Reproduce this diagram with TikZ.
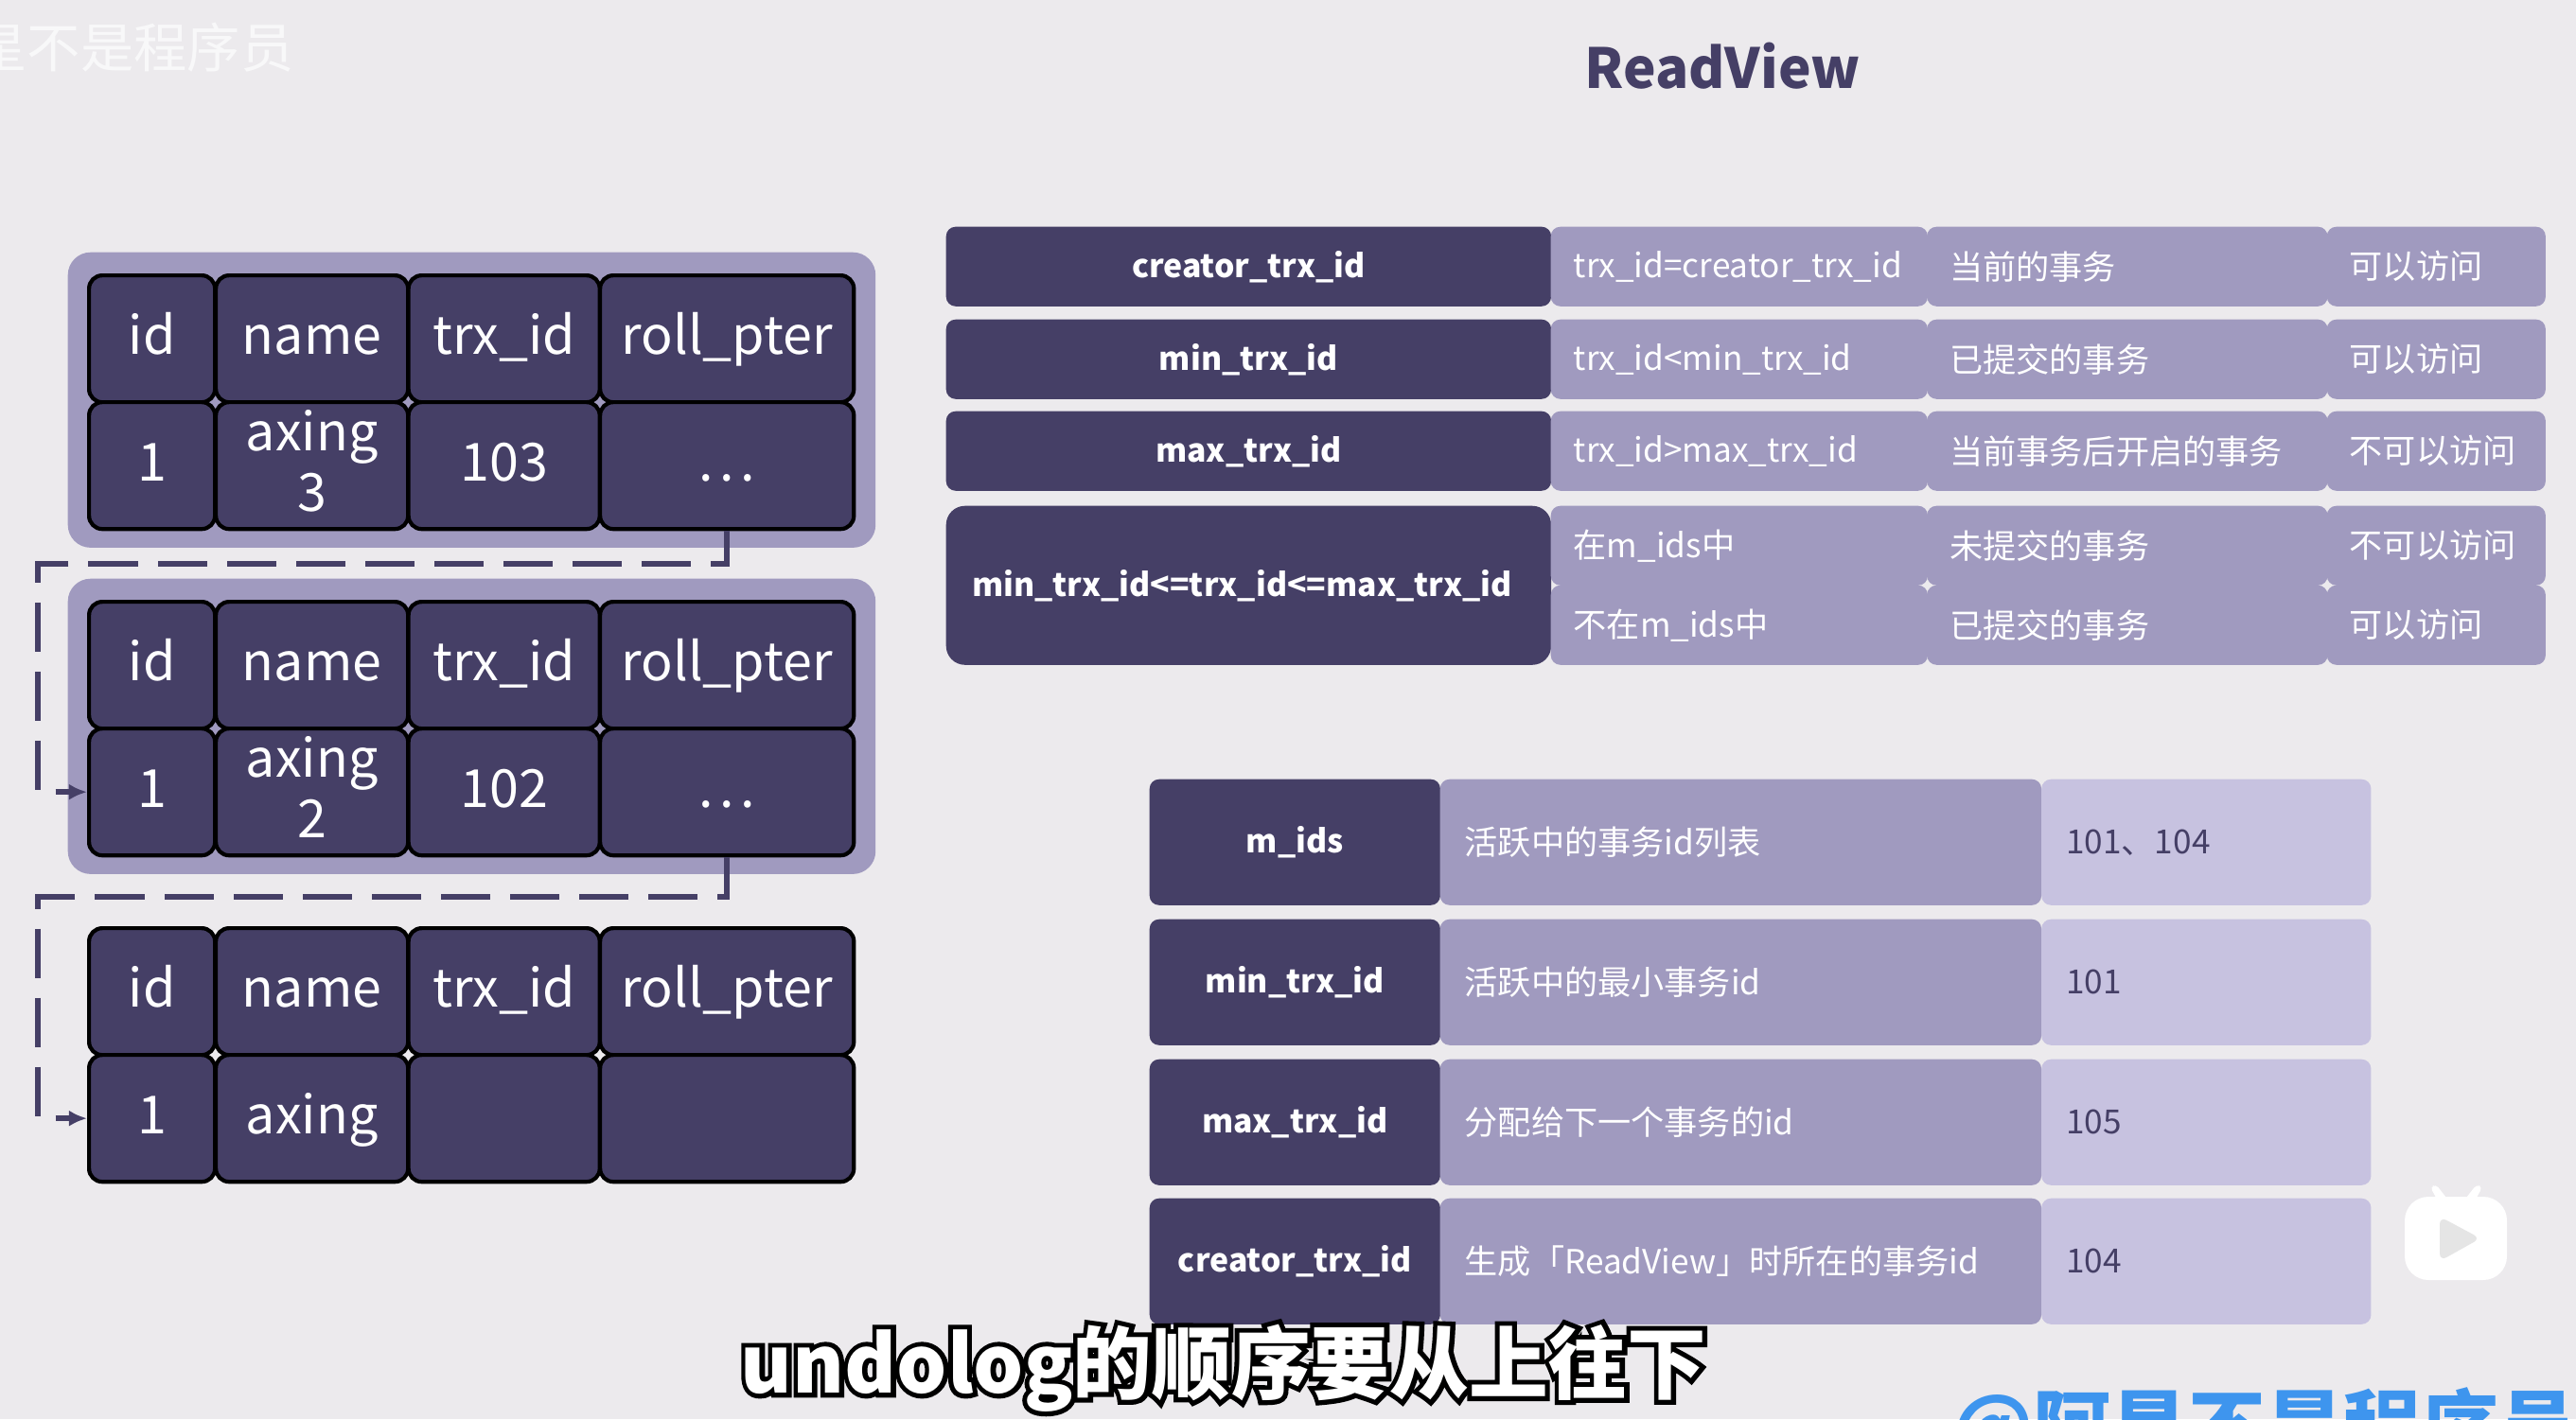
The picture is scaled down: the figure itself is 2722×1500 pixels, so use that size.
\documentclass[tikz,border=0pt]{standalone}
\usepackage{fontspec}
\setmainfont{Noto Sans CJK SC}
\usetikzlibrary{arrows.meta}
\definecolor{pagebg}{HTML}{ECEAED}
\definecolor{vdark}{HTML}{453F66}
\definecolor{vmid}{HTML}{A09ABF}
\definecolor{vlight}{HTML}{C7C2E0}
\definecolor{subblue}{HTML}{3E95EE}
\newcommand{\outlined}[1]{\rlap{\addfontfeature{FakeBold=12}\color{black}#1}\color{white}#1}
\tikzset{
  panel/.style    = {fill=vmid, rounded corners=0.24cm, minimum width=8.53cm,
                     minimum height=3.12cm, anchor=north west, inner sep=0pt},
  rowcell/.style  = {fill=vdark, draw=black, line width=1.2pt, text=white,
                     rounded corners=0.14cm, anchor=north west, inner sep=0pt,
                     align=center, minimum height=1.34cm,
                     font=\fontsize{15.8}{18}\selectfont},
  oneline/.style  = {text height=0.44cm, text depth=0.12cm},
  twoline/.style  = {text depth=3pt},
  colid/.style    = {rowcell, minimum width=1.33cm},
  colname/.style  = {rowcell, minimum width=2.03cm},
  coltrx/.style   = {rowcell, minimum width=2.02cm},
  colroll/.style  = {rowcell, minimum width=2.68cm},
  keycell/.style  = {fill=vdark, text=white, rounded corners=0.1cm, inner sep=0pt,
                     anchor=north west, font=\fontsize{9.6}{12}\selectfont\bfseries},
  valcell/.style  = {fill=vmid, text=white, rounded corners=0.1cm, inner sep=0pt,
                     anchor=north west, font=\fontsize{10}{12}\selectfont,
                     align=left, text width=#1},
  valcell/.default= 1cm,
  numcell/.style  = {fill=vlight, text=vdark, rounded corners=0.1cm, inner sep=0pt,
                     anchor=north west, font=\fontsize{10}{12}\selectfont},
  linkline/.style = {draw=vdark, line width=1.7pt, dash pattern=on 0.52cm off 0.21cm,
                     -{Latex[length=0.19cm, width=0.17cm]}},
}

\begin{document}
\begin{tikzpicture}[x=0.01cm, y=-0.01cm]
  \useasboundingbox (0,0) rectangle (2722,1500);
  \clip (0,0) rectangle (2722,1500);
  \fill[pagebg] (0,0) rectangle (2722,1500);
  \node[font=\fontsize{16.6}{20}\selectfont\bfseries, text=vdark] (title) at (1820,70) {ReadView};
  \node[font=\fontsize{16}{18}\selectfont, text=white!65!pagebg, anchor=west] (mark) at (-96,50) {阿星不是程序员};

  % undo log versions
  \node[panel] (pa) at (71,266) {};
  \node[panel] (pb) at (71,611) {};
  \foreach \t/\y in {a/289, b/634, c/979} {
    \node[colid, oneline]   (\t h1) at (92,\y) {id};
    \node[colname, oneline] (\t h2) at (226,\y) {name};
    \node[coltrx, oneline]  (\t h3) at (429.5,\y) {trx\_id};
    \node[colroll, oneline] (\t h4) at (632,\y) {roll\_pter};
  }
  \node[colid, oneline]   (ad1) at (92,423) {1};
  \node[colname, twoline] (ad2) at (226,423) {axing\\3};
  \node[coltrx, oneline]  (ad3) at (429.5,423) {103};
  \node[colroll, oneline] (ad4) at (632,423) {.\hspace{0.07cm}.\hspace{0.07cm}.};
  \node[colid, oneline]   (bd1) at (92,768) {1};
  \node[colname, twoline] (bd2) at (226,768) {axing\\2};
  \node[coltrx, oneline]  (bd3) at (429.5,768) {102};
  \node[colroll, oneline] (bd4) at (632,768) {.\hspace{0.07cm}.\hspace{0.07cm}.};
  \node[colid, oneline]   (cd1) at (92,1113) {1};
  \node[colname, oneline] (cd2) at (226,1113) {axing};
  \node[coltrx]  (cd3) at (429.5,1113) {};
  \node[colroll] (cd4) at (632,1113) {};
  \coordinate (ab) at (40,596);
  \coordinate (bc) at (40,948);
  \draw[linkline] (ad4.south) |- (ab) |- (bd1.west);
  \draw[linkline] (bd4.south) |- (bc) |- (cd1.west);

  % visibility rules
  \foreach \n/\y/\a/\b/\c/\d in {
      r1/239/creator\_trx\_id/trx\_id=creator\_trx\_id/当前的事务/可以访问,
      r2/337/min\_trx\_id/trx\_id<min\_trx\_id/已提交的事务/可以访问,
      r3/434/max\_trx\_id/trx\_id>max\_trx\_id/当前事务后开启的事务/不可以访问} {
    \node[keycell, minimum width=6.39cm, minimum height=0.84cm] (\n k) at (999,\y) {\a};
    \node[valcell=3.98cm, minimum height=0.84cm] (\n a) at (1638,\y) {\hspace*{0.24cm}\b};
    \node[valcell=4.23cm, minimum height=0.84cm] (\n b) at (2035.5,\y) {\hspace*{0.24cm}\c};
    \node[valcell=2.31cm, minimum height=0.84cm] (\n c) at (2458,\y) {\hspace*{0.24cm}\d};
  }
  \node[keycell, minimum width=6.39cm, minimum height=1.68cm, rounded corners=0.2cm] (r4k)
    at (999,534) {min\_trx\_id<=trx\_id<=max\_trx\_id\hspace*{0.14cm}};
  \node[valcell=3.98cm, minimum height=0.84cm] (r4a) at (1638,534) {\hspace*{0.24cm}在m\_ids中};
  \node[valcell=4.23cm, minimum height=0.84cm] (r4b) at (2035.5,534) {\hspace*{0.24cm}未提交的事务};
  \node[valcell=2.31cm, minimum height=0.84cm] (r4c) at (2458,534) {\hspace*{0.24cm}不可以访问};
  \node[valcell=3.98cm, minimum height=0.84cm] (r5a) at (1638,618) {\hspace*{0.24cm}不在m\_ids中};
  \node[valcell=4.23cm, minimum height=0.84cm] (r5b) at (2035.5,618) {\hspace*{0.24cm}已提交的事务};
  \node[valcell=2.31cm, minimum height=0.84cm] (r5c) at (2458,618) {\hspace*{0.24cm}可以访问};

  % readview fields
  \foreach \n/\y/\a/\b/\c in {
      f1/823/m\_ids/活跃中的事务id列表/{101、104},
      f2/971/min\_trx\_id/活跃中的最小事务id/101,
      f3/1119/max\_trx\_id/分配给下一个事务的id/105,
      f4/1266/creator\_trx\_id/生成「ReadView」时所在的事务id/104} {
    \node[keycell, minimum width=3.07cm, minimum height=1.33cm] (\n k) at (1214,\y) {\a};
    \node[valcell=6.35cm, minimum height=1.33cm] (\n a) at (1521,\y) {\hspace*{0.26cm}\b};
    \node[numcell, minimum width=3.48cm, minimum height=1.33cm, text width=3.48cm] (\n b) at (2156.5,\y) {\hspace*{0.26cm}\c};
  }

  % video overlay
  \node[font=\fontsize{23.8}{28}\selectfont\bfseries] (subtitle) at (1293,1446) {\outlined{undolog的顺序要从上往下}};
  \node[font=\fontsize{23.3}{26}\selectfont\bfseries, text=subblue, anchor=west] (handle) at (2051,1510) {@阿星不是程序员};
  \fill[white, rounded corners=0.04cm, line cap=round] (2574,1252) -- (2568,1255) -- (2582,1280) -- (2592,1275) -- cycle;
  \fill[white, rounded corners=0.04cm] (2617,1252) -- (2623,1255) -- (2609,1280) -- (2599,1275) -- cycle;
  \fill[white, rounded corners=0.25cm] (2541,1265) rectangle (2649,1353);
  \fill[gray!20, rounded corners=0.08cm] (2578,1286) -- (2578,1333) -- (2621,1309) -- cycle;
\end{tikzpicture}
\end{document}
